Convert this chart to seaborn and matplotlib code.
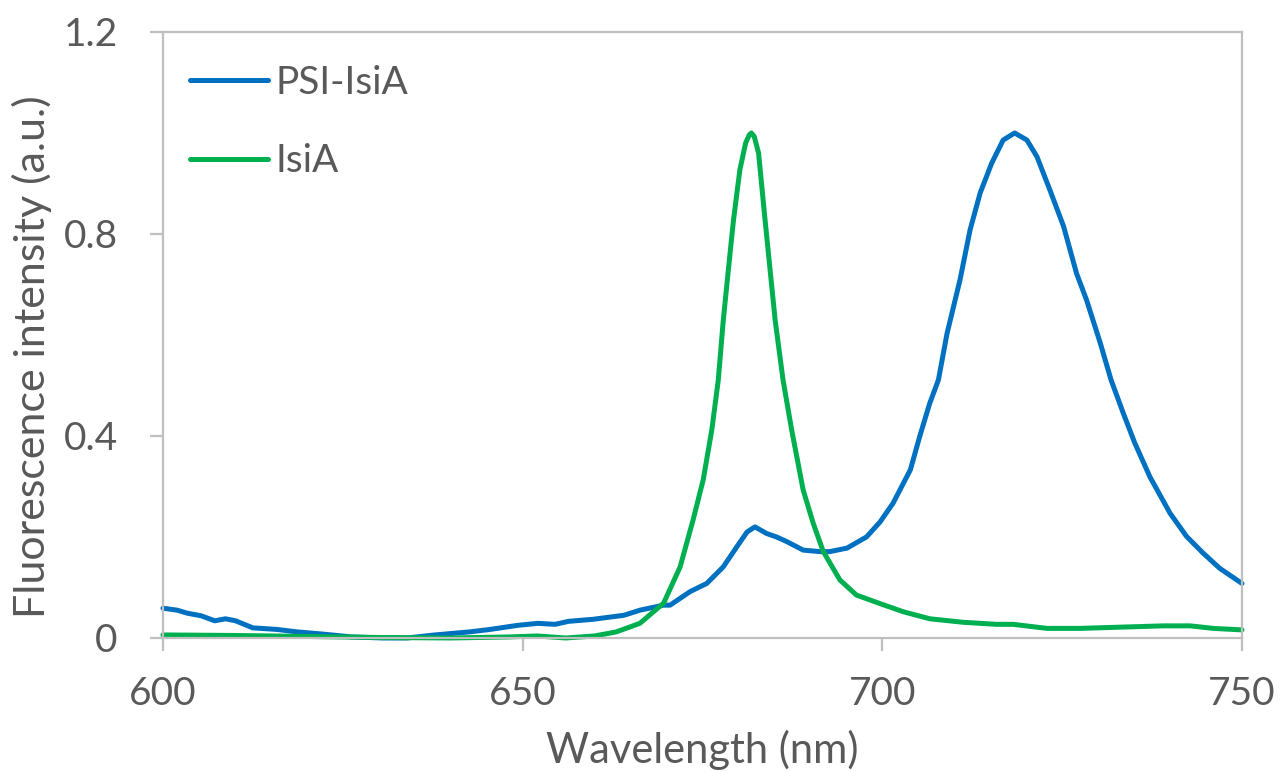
import pandas as pd
import matplotlib
matplotlib.use("Agg")
import matplotlib.pyplot as plt
import seaborn as sns

# PSI-IsiA emission spectrum
psi_wl = [600, 602, 603.4, 605.3, 607.2, 608.7, 610.1, 612.5, 615.8, 618.7,
          622, 626.3, 630.6, 634, 637.8, 642.6, 645.5, 649.3, 652.1, 654.5,
          656.4, 659.8, 664.1, 666.3, 669.6, 670.5, 673.3, 675.6, 677.9, 679.8,
          681.2, 682.3, 683.9, 685.3, 686.7, 689.0, 691.3, 692.7, 695.1, 697.8,
          699.7, 701.5, 703.9, 705.2, 706.6, 707.8, 709.0, 710.8, 712.2, 713.6,
          715.2, 716.8, 718.4, 720.1, 721.5, 723.3, 725.2, 727.0, 728.4, 730.3,
          731.8, 733.5, 735.1, 737.2, 740.0, 742.3, 744.6, 746.9, 750]
psi_val = [0.059, 0.055, 0.049, 0.044, 0.034, 0.038, 0.034, 0.020, 0.017, 0.012,
           0.008, 0.002, 0.0, 0.0, 0.006, 0.012, 0.017, 0.025, 0.029, 0.027,
           0.033, 0.037, 0.045, 0.055, 0.065, 0.065, 0.092, 0.108, 0.141, 0.181,
           0.210, 0.220, 0.207, 0.200, 0.191, 0.174, 0.171, 0.171, 0.178, 0.200,
           0.230, 0.267, 0.333, 0.399, 0.465, 0.511, 0.603, 0.709, 0.808, 0.881,
           0.940, 0.986, 1.0, 0.986, 0.953, 0.887, 0.815, 0.722, 0.669, 0.584,
           0.511, 0.445, 0.386, 0.319, 0.247, 0.201, 0.168, 0.138, 0.108]

# IsiA emission spectrum
isia_wl = [600, 610, 620, 630, 640, 648, 652, 656, 660, 663,
           666.3, 669.6, 671.9, 673.7, 675.1, 676.3, 677.2, 677.9, 678.6, 679.3,
           680.2, 681.0, 681.5, 681.8, 682.2, 682.8, 683.7, 684.4, 685.1, 686.2,
           687.4, 689.0, 690.4, 691.8, 694.1, 696.4, 699.7, 702.9, 706.6, 711.3,
           715.9, 718.2, 722.9, 727.5, 732.1, 739.1, 742.8, 746.0, 750]
isia_val = [0.006, 0.005, 0.003, 0.001, 0.0, 0.002, 0.004, 0.0, 0.004, 0.012,
            0.029, 0.069, 0.141, 0.234, 0.313, 0.412, 0.511, 0.630, 0.729, 0.826,
            0.927, 0.980, 0.996, 1.0, 0.993, 0.960, 0.828, 0.729, 0.630, 0.511,
            0.412, 0.293, 0.227, 0.171, 0.115, 0.085, 0.068, 0.052, 0.038, 0.031,
            0.027, 0.027, 0.019, 0.019, 0.021, 0.024, 0.024, 0.019, 0.016]

series_names = ["PSI-IsiA", "IsiA"]
series_colors = ["#0070C0", "#00B050"]
x_ticks = [600, 650, 700, 750]
y_ticks = [0, 0.4, 0.8, 1.2]
y_tick_labels = ["0", "0.4", "0.8", "1.2"]

sns.set_style("white")
plt.rcParams['font.family'] = ['Lato', 'DejaVu Sans']

df = pd.concat([
    pd.DataFrame({'wl': psi_wl, 'val': psi_val, 'sample': series_names[0]}),
    pd.DataFrame({'wl': isia_wl, 'val': isia_val, 'sample': series_names[1]}),
], ignore_index=True)

text_col = "#595959"
axis_col = "#BFBFBF"

fig = plt.figure(figsize=(12.8, 7.72), dpi=100)
ax = fig.add_axes([0.1273, 0.1736, 0.8430, 0.7850])

sns.lineplot(data=df, x='wl', y='val', hue='sample', hue_order=series_names,
             palette=series_colors, estimator=None, sort=False,
             linewidth=3.6, clip_on=False, solid_joinstyle='round',
             solid_capstyle='round', ax=ax)

ax.set_xlim(600, 750)
ax.set_ylim(0, 1.2)
ax.set_xticks(x_ticks)
ax.set_yticks(y_ticks)
ax.set_yticklabels(y_tick_labels)

for side in ['left', 'right', 'top', 'bottom']:
    ax.spines[side].set_visible(True)
    ax.spines[side].set_color(axis_col)
    ax.spines[side].set_linewidth(1.6)

ax.tick_params(axis='both', which='major', bottom=True, left=True,
               direction='out', length=9.5, width=1.6, color=axis_col,
               labelcolor=text_col, labelsize=28)
ax.tick_params(axis='x', pad=18)
ax.tick_params(axis='y', pad=23)

ax.set_xlabel("Wavelength (nm)", fontsize=30, color=text_col, labelpad=13)
ax.set_ylabel("Fluorescence intensity (a.u.)", fontsize=31, color=text_col)
ax.yaxis.set_label_coords(-0.103, 0.464)

leg = ax.legend(loc='upper left', bbox_to_anchor=(0.025, 0.946), frameon=False,
                fontsize=28, handlelength=2.0, handletextpad=0.2,
                labelspacing=1.1, borderpad=0, borderaxespad=0)
for line in leg.get_lines():
    line.set_linewidth(3.6)
for t in leg.get_texts():
    t.set_color(text_col)

fig.savefig("out.png", dpi=100)
